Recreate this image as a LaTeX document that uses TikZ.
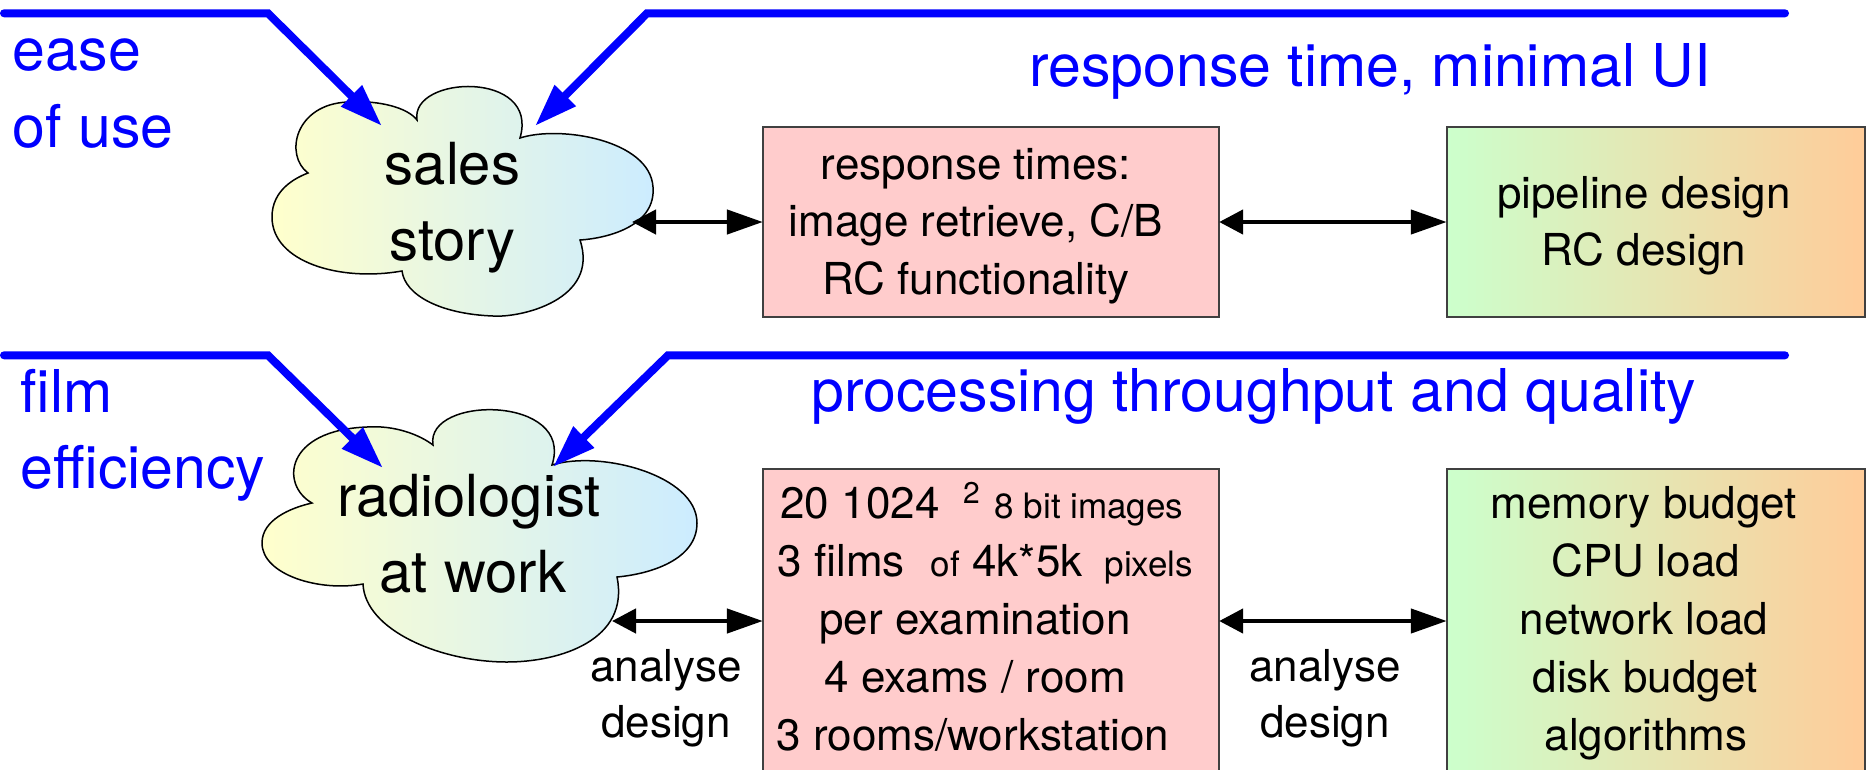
\documentclass[tikz,border=0pt]{standalone}
\usepackage{fontspec}
\setmainfont{TeX Gyre Heros}
\usetikzlibrary{arrows.meta,calc}
\definecolor{myblue}{RGB}{0,0,255}
\definecolor{pinkfill}{RGB}{255,204,204}
\definecolor{gleft}{RGB}{204,255,204}
\definecolor{gright}{RGB}{255,204,153}
\definecolor{cleft}{RGB}{255,255,204}
\definecolor{cright}{RGB}{204,236,255}
\newcommand{\mysmallsz}{\fontsize{35}{40}\selectfont}
\tikzset{
  blueline/.style={draw=myblue, line width=8pt, line cap=round, line join=miter,
    -{Triangle[length=43pt,width=28pt]}},
  dblarrow/.style={draw=black, line width=4.5pt,
    {Triangle[length=24pt,width=24pt]}-{Triangle[length=36pt,width=24pt]}},
  cloudshape/.style={draw=black, line width=1.5pt, left color=cleft, right color=cright},
  pinkbox/.style={draw=black!75, line width=2pt, fill=pinkfill, outer sep=0pt, inner sep=0pt},
  greenbox/.style={draw=black!75, line width=2pt, left color=gleft, right color=gright,
    outer sep=0pt, inner sep=0pt},
  bigtxt/.style={font=\fontsize{58}{77}\selectfont, inner sep=0pt, anchor=base},
  boxtxt/.style={font=\fontsize{44}{57}\selectfont, inner sep=0pt, anchor=base},
  bluetxt/.style={font=\fontsize{59}{77}\selectfont, inner sep=0pt, text=myblue, anchor=base west},
}
\begin{document}
\begin{tikzpicture}[x=1pt,y=-1pt]
\useasboundingbox (0,0) rectangle (1868,769);
\clip (0,0) rectangle (1868,769);

% ---------- boxes ----------
\node[pinkbox, minimum width=456.3pt, minimum height=190pt] (box1) at (991,222) {};
\node[greenbox, minimum width=418.3pt, minimum height=190pt] (gbox1) at (1655.9,222) {};
\node[pinkbox, minimum width=456.3pt, minimum height=340pt] (box2) at (991,639) {};
\node[greenbox, minimum width=418.3pt, minimum height=340pt] (gbox2) at (1655.9,639) {};

% ---------- clouds ----------
\draw[cloudshape] (308,173)
  .. controls (284,155) and (295,104) .. (348,102)
  .. controls (380,100) and (408,108) .. (417,120)
  .. controls (410,75) and (540,70) .. (520,138)
  .. controls (560,125) and (650,140) .. (653,187)
  .. controls (656,225) and (610,238) .. (580,240)
  .. controls (600,300) and (520,318) .. (493,316)
  .. controls (440,314) and (405,295) .. (402,271)
  .. controls (340,282) and (272,262) .. (272,217)
  .. controls (272,190) and (295,178) .. (308,173) -- cycle;

\draw[cloudshape] (312,503)
  .. controls (280,485) and (285,430) .. (367,427)
  .. controls (395,425) and (420,435) .. (433,445)
  .. controls (425,395) and (575,395) .. (552,465)
  .. controls (600,450) and (697,475) .. (697,523)
  .. controls (697,560) and (650,574) .. (617,577)
  .. controls (630,640) and (560,662) .. (507,662)
  .. controls (440,662) and (365,630) .. (363,584)
  .. controls (320,592) and (262,575) .. (262,543)
  .. controls (262,520) and (290,508) .. (312,503) -- cycle;

\node[bigtxt] (sales) at (452.5,184) {sales};
\node[bigtxt] (story) at (452.5,260) {story};
\node[bigtxt] (radio) at (469,516) {radiologist};
\node[bigtxt] (atwork) at (473,592.7) {at work};

% ---------- blue texts ----------
\node[bluetxt] (ease) at (12.7,70) {ease};
\node[bluetxt] (ofuse) at (12.7,147) {of use};
\node[bluetxt] (film) at (20.5,412) {film};
\node[bluetxt] (effic) at (20.5,488) {efficiency};
\node[bluetxt] (resp) at (1029,86) {response time, minimal UI};
\node[bluetxt] (proc) at (811,411.7) {processing throughput and quality};

% ---------- blue lines ----------
\coordinate (b1s) at (4,13.3);   \coordinate (b1c) at (268,13.3);  \coordinate (t1) at (382,126);
\coordinate (b2s) at (1785,13.3); \coordinate (b2c) at (647,13.3); \coordinate (t2) at (535,126);
\coordinate (b3s) at (4,355.3);  \coordinate (b3c) at (268,355.3); \coordinate (t3) at (383,468);
\coordinate (b4s) at (1785,355.3); \coordinate (b4c) at (668,355.3); \coordinate (t4) at (553,467);
\draw[blueline] (b1s) -- (b1c) -- (t1);
\draw[blueline] (b2s) -- (b2c) -- (t2);
\draw[blueline] (b3s) -- (b3c) -- (t3);
\draw[blueline] (b4s) -- (b4c) -- (t4);

% ---------- box texts ----------
\node[boxtxt] (r1) at (976,179.3) {response times:};
\node[boxtxt] (r2) at (976,236.7) {image retrieve, C/B};
\node[boxtxt] (r3) at (976,294.3) {RC functionality};
\node[boxtxt] (g1) at (1644,208.3) {pipeline design};
\node[boxtxt] (g2) at (1644,265.7) {RC design};

\node[boxtxt, anchor=base west] (p1) at (780.3,518.3)
  {20 1024\hspace{23.5pt}\raisebox{15pt}{\fontsize{30}{30}\selectfont 2}\hspace{15pt}{\mysmallsz 8 bit images}};
\node[boxtxt, anchor=base west] (p2) at (777.6,576.7)
  {3 films\hspace{25.7pt}{\mysmallsz of}\hspace{12.7pt}4k*5k\hspace{22.1pt}{\mysmallsz pixels}};
\node[boxtxt] (p3) at (975,634.3) {per examination};
\node[boxtxt] (p4) at (975,692.7) {4 exams / room};
\node[boxtxt] (p5) at (973,750) {3 rooms/workstation};

\node[boxtxt] (q1) at (1644,518.3) {memory budget};
\node[boxtxt] (q2) at (1646,576.7) {CPU load};
\node[boxtxt] (q3) at (1644,634.3) {network load};
\node[boxtxt] (q4) at (1645,692.7) {disk budget};
\node[boxtxt] (q5) at (1646,750) {algorithms};

\node[boxtxt] (a1) at (666,681) {analyse};
\node[boxtxt] (d1) at (666,737) {design};
\node[boxtxt] (a2) at (1325,681) {analyse};
\node[boxtxt] (d2) at (1325,737) {design};

% ---------- black double arrows ----------
\coordinate (c1r) at (632,222);
\coordinate (c2r) at (612,621);
\draw[dblarrow] (c1r) -- (box1.west);
\draw[dblarrow] (box1.east) -- (gbox1.west);
\draw[dblarrow] (c2r) -- (c2r -| box2.west);
\draw[dblarrow] (c2r -| box2.east) -- (c2r -| gbox2.west);
\end{tikzpicture}
\end{document}
